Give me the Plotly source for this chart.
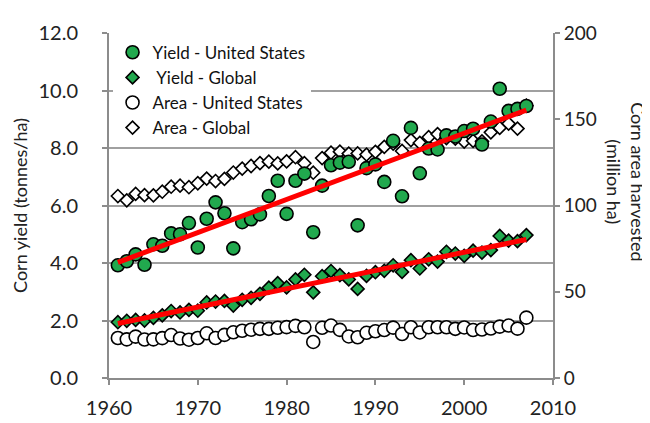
import numpy as np
import plotly.graph_objects as go

years = list(range(1961, 2008))

yield_us = [3.92, 4.06, 4.30, 3.94, 4.65, 4.60, 5.03, 5.00, 5.39, 4.54,
            5.54, 6.11, 5.73, 4.51, 5.42, 5.52, 5.69, 6.33, 6.86, 5.71,
            6.86, 7.11, 5.07, 6.69, 7.40, 7.49, 7.52, 5.31, 7.30, 7.43,
            6.82, 8.25, 6.32, 8.70, 7.12, 7.98, 7.95, 8.44, 8.40, 8.59,
            8.67, 8.12, 8.92, 10.06, 9.29, 9.36, 9.46]

yield_global = [1.94, 1.99, 2.02, 2.00, 2.09, 2.18, 2.33, 2.28, 2.37, 2.34,
                2.63, 2.66, 2.68, 2.52, 2.72, 2.79, 2.93, 3.14, 3.30, 3.15,
                3.43, 3.59, 2.98, 3.54, 3.72, 3.58, 3.43, 3.10, 3.55, 3.68,
                3.73, 3.92, 3.69, 4.10, 3.81, 4.13, 4.05, 4.39, 4.33, 4.25,
                4.43, 4.36, 4.45, 4.94, 4.78, 4.76, 4.97]

area_us = [23.2, 22.4, 24.0, 22.3, 22.4, 23.1, 24.9, 22.9, 22.2, 23.2,
           25.9, 23.2, 25.0, 26.5, 27.4, 28.0, 28.5, 28.5, 29.1, 29.5,
           30.2, 29.4, 20.9, 29.1, 30.4, 27.9, 24.1, 23.6, 26.2, 27.1,
           27.8, 29.2, 25.5, 29.4, 26.4, 29.4, 29.4, 29.4, 28.5, 29.3,
           27.8, 28.1, 28.7, 29.8, 30.4, 28.6, 35.0]

area_global = [105.5, 103.0, 106.7, 106.0, 105.9, 108.0, 110.9, 111.5, 110.6, 112.9,
               115.6, 114.2, 115.4, 119.1, 121.4, 122.9, 124.6, 125.4, 124.4, 125.6,
               128.0, 124.5, 119.0, 127.5, 130.6, 131.2, 130.1, 130.2, 129.5, 131.1,
               134.0, 135.9, 131.6, 137.9, 136.3, 139.6, 141.4, 139.1, 138.8, 137.1,
               137.5, 137.2, 142.4, 145.0, 147.5, 144.6, 157.9]

x_ticks = [1960, 1970, 1980, 1990, 2000, 2010]
y_ticks = [0, 2, 4, 6, 8, 10, 12]
y2_ticks = [0, 50, 100, 150, 200]

GREEN = "#21a94e"
FONT = "Lato"
AXC = "#8c8c8c"

yr = np.array(years)
fit_us = np.polyval(np.polyfit(yr, yield_us, 1), yr)
fit_gl = np.polyval(np.polyfit(yr, yield_global, 1), yr)

fig = go.Figure()

# area (right axis) = main y axis, drawn first (bottom)
fig.add_trace(go.Scatter(x=years, y=area_global, yaxis="y", mode="markers",
                         name="Area - Global", legendrank=4,
                         marker=dict(symbol="diamond", size=10, color="white",
                                     line=dict(color="black", width=1.6))))
fig.add_trace(go.Scatter(x=years, y=area_us, yaxis="y", mode="markers",
                         name="Area - United States", legendrank=3,
                         marker=dict(symbol="circle", size=13, color="white",
                                     line=dict(color="black", width=1.6))))
# yield (left axis) overlaid
fig.add_trace(go.Scatter(x=years, y=yield_global, yaxis="y2", mode="markers",
                         name=" Yield - Global", legendrank=2,
                         marker=dict(symbol="diamond", size=10, color=GREEN,
                                     line=dict(color="black", width=1.6))))
fig.add_trace(go.Scatter(x=years, y=yield_us, yaxis="y2", mode="markers",
                         name="Yield - United States", legendrank=1,
                         marker=dict(symbol="circle", size=13, color=GREEN,
                                     line=dict(color="black", width=1.6))))
# trend lines on top
fig.add_trace(go.Scatter(x=years, y=fit_us, yaxis="y3", mode="lines",
                         showlegend=False, line=dict(color="#ff0000", width=5)))
fig.add_trace(go.Scatter(x=years, y=fit_gl, yaxis="y3", mode="lines",
                         showlegend=False, line=dict(color="#ff0000", width=5)))

fig.update_layout(
    width=650, height=423,
    margin=dict(l=98, r=105, t=24, b=38),
    paper_bgcolor="white", plot_bgcolor="white",
    font=dict(family=FONT, color="#222222"),
    showlegend=True,
    legend=dict(x=0.008, y=0.995, xanchor="left", yanchor="top",
                bgcolor="white", borderwidth=0, itemwidth=30,
                font=dict(family=FONT, size=17, color="#111111"),
                tracegroupgap=0),
    xaxis=dict(range=[1960, 2010], tickvals=x_ticks, ticks="outside", ticklen=5,
               tickwidth=2, tickcolor=AXC, showline=True, linecolor=AXC, linewidth=2,
               showgrid=False, zeroline=False, tickfont=dict(size=20),
               ticklabelstandoff=6),
    yaxis=dict(range=[0, 200], tickvals=y2_ticks, side="right",
               ticks="outside", ticklen=5, tickwidth=2, tickcolor=AXC,
               showline=True, linecolor=AXC, linewidth=2, showgrid=False,
               zeroline=False, tickfont=dict(size=19), ticklabelstandoff=0),
    yaxis2=dict(range=[0, 12], tickvals=y_ticks, tickformat=".1f", ticks="outside",
                overlaying="y", side="left",
                ticklen=5, tickwidth=2, tickcolor=AXC, showline=True, linecolor=AXC,
                linewidth=2, showgrid=True, gridcolor="#a0a0a0", gridwidth=2,
                zeroline=False, tickfont=dict(size=20), ticklabelstandoff=20,
                title=dict(text="Corn yield (tonnes/ha)", font=dict(size=18), standoff=6)),
    yaxis3=dict(range=[0, 12], overlaying="y", visible=False),
)

fig.add_annotation(text="Corn area harvested<br>(million ha)", xref="paper", yref="paper",
                   x=1.22, y=0.57, textangle=90, showarrow=False,
                   font=dict(size=18, family=FONT, color="#222222"))

fig.write_html("out.html")
